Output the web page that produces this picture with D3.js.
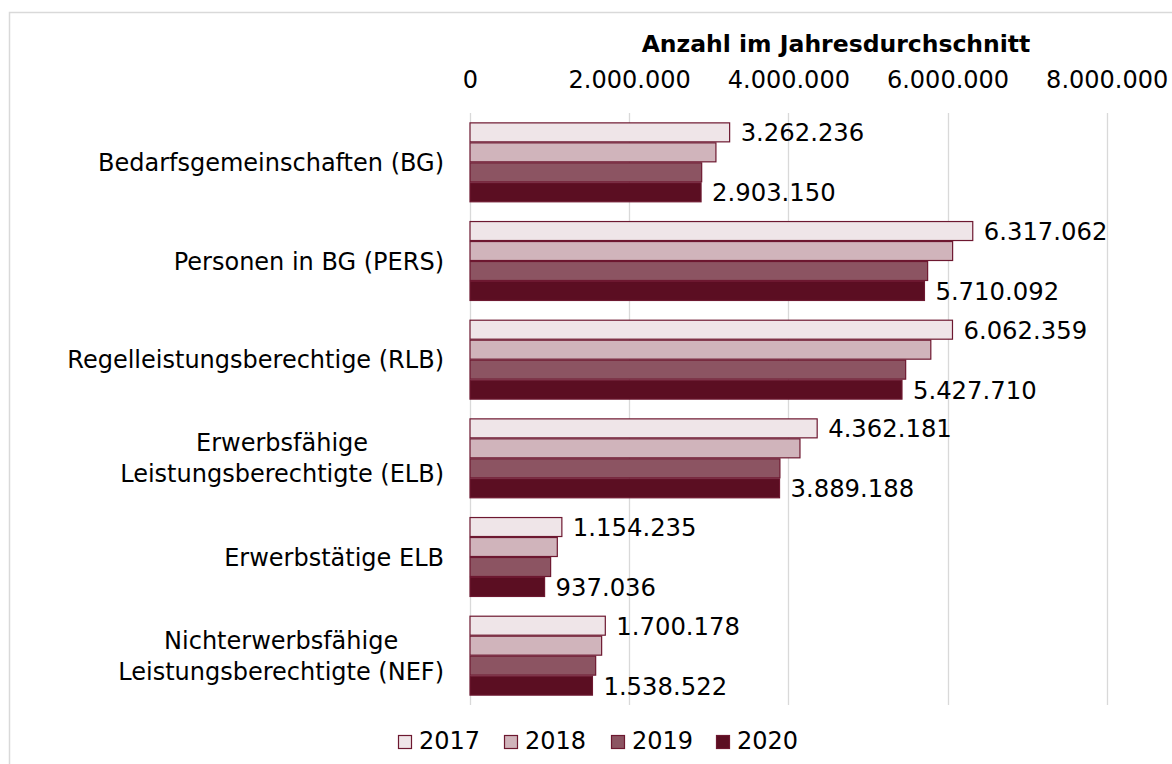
<!DOCTYPE html>
<html>
<head>
<meta charset="utf-8">
<script src="https://cdn.jsdelivr.net/npm/d3@7"></script>
<style>
  html, body { margin: 0; padding: 0; background: #fff; }
  svg { display: block; font-family: "DejaVu Sans", sans-serif; }
</style>
</head>
<body>
<svg id="chart" width="1172" height="764"></svg>
<script>
// ---- data ----
const categories = [
  ["Bedarfsgemeinschaften (BG)"],
  ["Personen in BG (PERS)"],
  ["Regelleistungsberechtige (RLB)"],
  ["Erwerbsfähige", "Leistungsberechtigte (ELB)"],
  ["Erwerbstätige ELB"],
  ["Nichterwerbsfähige", "Leistungsberechtigte (NEF)"]
];
const years = ["2017", "2018", "2019", "2020"];
const values2017 = [3262236, 6317062, 6062359, 4362181, 1154235, 1700178];
const values2018 = [3090000, 6064000, 5790000, 4146000, 1097000, 1654000];
const values2019 = [2911000, 5750000, 5474000, 3894000, 1013000, 1579000];
const values2020 = [2903150, 5710092, 5427710, 3889188, 937036, 1538522];
const tickValues = [0, 2000000, 4000000, 6000000, 8000000];
const axisTitle = "Anzahl im Jahresdurchschnitt";

const series = [values2017, values2018, values2019, values2020];
const fills = ["#efe5e8", "#d0b4bb", "#8c5462", "#5b0e22"];
const strokeCol = "#6d1830";

const svg = d3.select("#chart");
const fmt = v => d3.format(",")(v).replace(/,/g, ".");

// frame
svg.append("rect").attr("x", 9.5).attr("y", 12.5).attr("width", 1200).attr("height", 800)
  .attr("fill", "none").attr("stroke", "#d9d9d9").attr("stroke-width", 1.5);

const x = d3.scaleLinear().domain([0, 8000000]).range([470, 1106.7]);
const y0 = d3.scaleBand().domain(d3.range(categories.length)).range([113, 705])
  .paddingInner(0.19).paddingOuter(0.095);
const y1 = d3.scaleBand().domain(d3.range(years.length)).range([0, y0.bandwidth()]);

// gridlines
svg.append("g").selectAll("line").data(tickValues).join("line")
  .attr("x1", d => Math.round(x(d)) + 0.5).attr("x2", d => Math.round(x(d)) + 0.5)
  .attr("y1", 113).attr("y2", 705)
  .attr("stroke", "#d9d9d9").attr("stroke-width", 1.3);

// top axis tick labels
const axis = d3.axisTop(x).tickValues(tickValues).tickFormat(fmt).tickSize(0).tickPadding(0);
const ag = svg.append("g").attr("transform", "translate(0,88)").call(axis);
ag.select(".domain").remove();
ag.selectAll("text").attr("font-size", 24).attr("font-family", "DejaVu Sans").attr("fill", "#000");

// axis title
svg.append("text").attr("x", 836).attr("y", 52).attr("text-anchor", "middle")
  .attr("font-size", 23.5).attr("font-weight", "bold").attr("fill", "#000").text(axisTitle);

// bars
const groups = svg.append("g").selectAll("g").data(categories).join("g")
  .attr("transform", (d, i) => `translate(0,${y0(i)})`);

groups.each(function(cat, ci) {
  const g = d3.select(this);
  series.forEach((s, si) => {
    g.append("rect")
      .attr("x", x(0))
      .attr("y", y1(si) + 0.5)
      .attr("width", x(s[ci]) - x(0))
      .attr("height", y1.bandwidth() - 1)
      .attr("fill", fills[si])
      .attr("stroke", strokeCol).attr("stroke-width", 1.2);
  });
  // value labels for 2017 and 2020
  [0, 3].forEach(si => {
    g.append("text")
      .attr("x", x(series[si][ci]) + 11)
      .attr("y", y1(si) + y1.bandwidth() / 2 + 9)
      .attr("font-size", 24.3).attr("fill", "#000")
      .text(fmt(series[si][ci]));
  });
});

// category labels
categories.forEach((lines, ci) => {
  const cy = y0(ci) + y0.bandwidth() / 2;
  const lh = 31;
  const g = svg.append("g");
  const texts = lines.map((ln, li) => g.append("text")
    .attr("y", cy + (li - (lines.length - 1) / 2) * lh + 8.5)
    .attr("font-size", 24).attr("fill", "#000").text(ln));
  const widths = texts.map(t => t.node().getComputedTextLength());
  const maxW = d3.max(widths);
  const right = 444;
  const center = right - maxW / 2;
  texts.forEach(t => t.attr("x", center).attr("text-anchor", "middle"));
});

// legend
const legX = [398, 504, 611, 716];
const lg = svg.append("g");
years.forEach((yr, i) => {
  lg.append("rect").attr("x", legX[i] + 0.5).attr("y", 735.5).attr("width", 13).attr("height", 13)
    .attr("fill", fills[i]).attr("stroke", strokeCol).attr("stroke-width", 1.2);
  lg.append("text").attr("x", legX[i] + 21).attr("y", 749)
    .attr("font-size", 24).attr("fill", "#000").text(yr);
});
</script>
</body>
</html>
